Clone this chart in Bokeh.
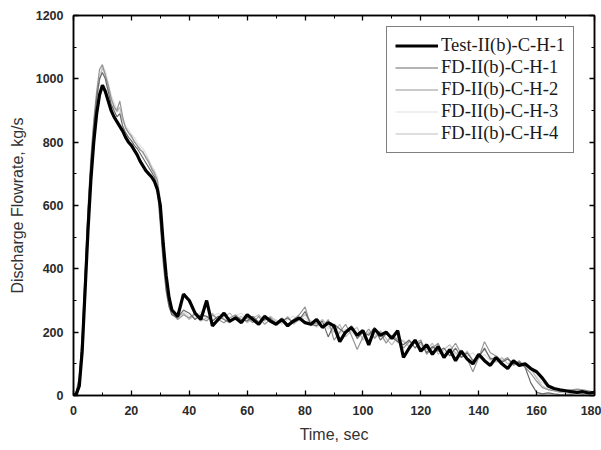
from bokeh.plotting import figure
from bokeh.models import (Range1d, SingleIntervalTicker, LinearAxis, Legend, LegendItem)
from bokeh.embed import file_html
from bokeh.resources import INLINE

# ---------------- data ----------------
time_s = list(range(0, 35)) + list(range(36, 181, 2))

test_1 = [0, 5, 30, 140, 330, 520, 680, 800, 890, 950, 980, 960, 930, 900, 880, 865, 850, 835, 815, 800,
          790, 775, 760, 740, 725, 710, 700, 690, 675, 650, 600, 480, 380, 310, 270,
          250, 320, 300, 260, 240, 300, 220, 240, 260, 235, 245, 230, 255, 240, 225, 250, 235, 225, 240, 220,
          235, 245, 230, 225, 240, 215, 230, 220, 170, 200, 215, 190, 205, 160, 210, 190, 200, 180, 205, 120,
          150, 175, 140, 160, 130, 155, 120, 145, 110, 140, 115, 100, 130, 110, 95, 120, 100, 85, 110, 95,
          100, 85, 75, 55, 30, 22, 18, 15, 12, 10, 12, 8, 10]

fd_1 = [0, 10, 50, 170, 370, 570, 730, 850, 940, 1000, 1020, 1000, 960, 920, 900, 880, 890, 850, 830, 815,
        805, 790, 780, 765, 750, 735, 720, 705, 690, 650, 540, 420, 330, 280, 255,
        245, 270, 260, 240, 255, 250, 235, 250, 240, 230, 250, 240, 235, 250, 230, 240, 245, 225, 235, 245,
        230, 240, 265, 225, 220, 235, 185, 225, 210, 195, 220, 180, 200, 190, 215, 175, 195, 185, 170, 160,
        175, 150, 170, 135, 155, 140, 150, 125, 150, 120, 135, 110, 120, 150, 115, 120, 105, 115, 100, 105,
        90, 40, 10, 5, 8, 5, 3, 2, 3, 0, 2, 0, 0]

fd_2 = [0, 15, 60, 190, 390, 590, 750, 870, 960, 1030, 1045, 1010, 980, 940, 910, 900, 930, 880, 845, 830,
        820, 800, 790, 775, 770, 750, 735, 715, 700, 680, 600, 470, 350, 290, 260,
        240, 255, 245, 260, 245, 235, 255, 240, 230, 245, 255, 235, 245, 230, 250, 225, 240, 230, 245, 225,
        240, 255, 280, 220, 230, 215, 240, 175, 200, 225, 190, 145, 185, 210, 180, 200, 165, 190, 175, 150,
        170, 165, 175, 130, 150, 165, 120, 140, 165, 130, 115, 75, 120, 170, 135, 125, 110, 120, 95, 110,
        90, 70, 45, 25, 18, 15, 12, 14, 18, 20, 18, 15, 10]

fd_3 = [0, 12, 55, 180, 380, 580, 740, 860, 950, 1010, 1040, 1025, 990, 950, 925, 905, 895, 870, 850, 840,
        825, 815, 800, 790, 780, 765, 745, 725, 710, 690, 620, 500, 370, 300, 265,
        255, 265, 250, 245, 265, 240, 250, 260, 245, 235, 250, 260, 240, 245, 235, 255, 230, 240, 225, 240,
        250, 235, 245, 230, 215, 230, 210, 225, 195, 210, 200, 185, 200, 175, 195, 185, 170, 190, 165, 175,
        160, 170, 150, 165, 140, 155, 135, 150, 130, 145, 125, 135, 115, 130, 110, 125, 105, 115, 100, 105,
        95, 80, 60, 40, 28, 22, 20, 18, 15, 12, 10, 8, 5]

fd_4 = [0, 8, 45, 160, 360, 560, 720, 840, 935, 995, 1035, 1015, 975, 935, 915, 895, 910, 870, 845, 830,
        815, 805, 790, 780, 765, 755, 740, 720, 705, 670, 560, 440, 340, 285, 255,
        250, 260, 240, 255, 235, 245, 260, 235, 250, 260, 240, 250, 230, 245, 255, 235, 250, 235, 230, 250,
        225, 240, 255, 235, 225, 240, 220, 200, 225, 185, 205, 215, 175, 200, 185, 205, 180, 160, 185, 170,
        155, 175, 160, 145, 165, 130, 145, 160, 135, 120, 140, 110, 125, 145, 120, 105, 120, 100, 110, 95,
        100, 85, 55, 30, 20, 15, 10, 8, 6, 5, 4, 3, 2]

series_names = ["Test-II(b)-C-H-1", "FD-II(b)-C-H-1", "FD-II(b)-C-H-2", "FD-II(b)-C-H-3", "FD-II(b)-C-H-4"]
series_values = [test_1, fd_1, fd_2, fd_3, fd_4]
series_colors = ["#000000", "#6a6a6a", "#959595", "#e0e0e0", "#bdbdbd"]
series_widths = [3.2, 1.2, 1.2, 1.2, 1.2]

x_ticks_interval = 20
y_ticks_interval = 200

# ---------------- figure ----------------
p = figure(width=601, height=450, output_backend="svg", toolbar_location=None,
           x_range=Range1d(0, 180), y_range=Range1d(0, 1200),
           min_border_left=73, min_border_right=7, min_border_top=15, min_border_bottom=55)

p.xgrid.visible = False
p.ygrid.visible = False
p.outline_line_color = "black"
p.outline_line_width = 1.5
p.background_fill_color = "white"
p.border_fill_color = "white"

order = [3, 4, 2, 1, 0]
rmap = {}
for i in order:
    r = p.line(time_s, series_values[i], line_color=series_colors[i], line_width=series_widths[i])
    rmap[i] = r

tick_font = "Liberation Sans"

def style_axis(ax, show_labels=True):
    ax.axis_line_color = "black"
    ax.axis_line_width = 1.5
    ax.major_tick_in = 5
    ax.major_tick_out = 0
    ax.minor_tick_in = 3
    ax.minor_tick_out = 0
    ax.major_tick_line_color = "black"
    ax.minor_tick_line_color = "black"
    ax.major_tick_line_width = 1.3
    ax.minor_tick_line_width = 1.0
    if show_labels:
        ax.major_label_text_font = tick_font
        ax.major_label_text_font_size = "12.5px"
        ax.major_label_text_color = "#2a2a2a"
        ax.major_label_text_font_style = "bold"
    else:
        ax.major_label_text_font_size = "0px"
        ax.major_label_text_color = None
        ax.major_label_standoff = 0

p.xaxis.ticker = SingleIntervalTicker(interval=x_ticks_interval, num_minor_ticks=2)
p.yaxis.ticker = SingleIntervalTicker(interval=y_ticks_interval, num_minor_ticks=2)
style_axis(p.xaxis[0])
style_axis(p.yaxis[0])
p.xaxis.major_label_standoff = 10
p.yaxis.major_label_standoff = 10
p.xaxis.axis_label = "Time, sec"
p.yaxis.axis_label = "Discharge Flowrate, kg/s"
for ax in (p.xaxis[0], p.yaxis[0]):
    ax.axis_label_text_font = "Liberation Sans"
    ax.axis_label_text_font_size = "16px"
    ax.axis_label_text_font_style = "normal"
    ax.axis_label_text_color = "#333333"
p.xaxis.axis_label_standoff = 8
p.yaxis.axis_label_standoff = 7

top_ax = LinearAxis(ticker=SingleIntervalTicker(interval=x_ticks_interval, num_minor_ticks=2))
right_ax = LinearAxis(ticker=SingleIntervalTicker(interval=y_ticks_interval, num_minor_ticks=2))
style_axis(top_ax, False)
style_axis(right_ax, False)
p.add_layout(top_ax, "above")
p.add_layout(right_ax, "right")

items = [LegendItem(label=series_names[i], renderers=[rmap[i]]) for i in range(5)]
legend = Legend(items=items, location=(313, 242))
legend.margin = 0
legend.border_line_color = "black"
legend.border_line_width = 1.8
legend.background_fill_color = "white"
legend.background_fill_alpha = 1
legend.label_text_font = "Liberation Serif"
legend.label_text_font_size = "18.5px"
legend.label_text_color = "#1a1a1a"
legend.glyph_width = 43
legend.glyph_height = 21
legend.label_height = 21
legend.spacing = 1
legend.padding = 8
legend.label_standoff = 3
p.add_layout(legend)

open("out.html", "w").write(file_html(p, INLINE))
